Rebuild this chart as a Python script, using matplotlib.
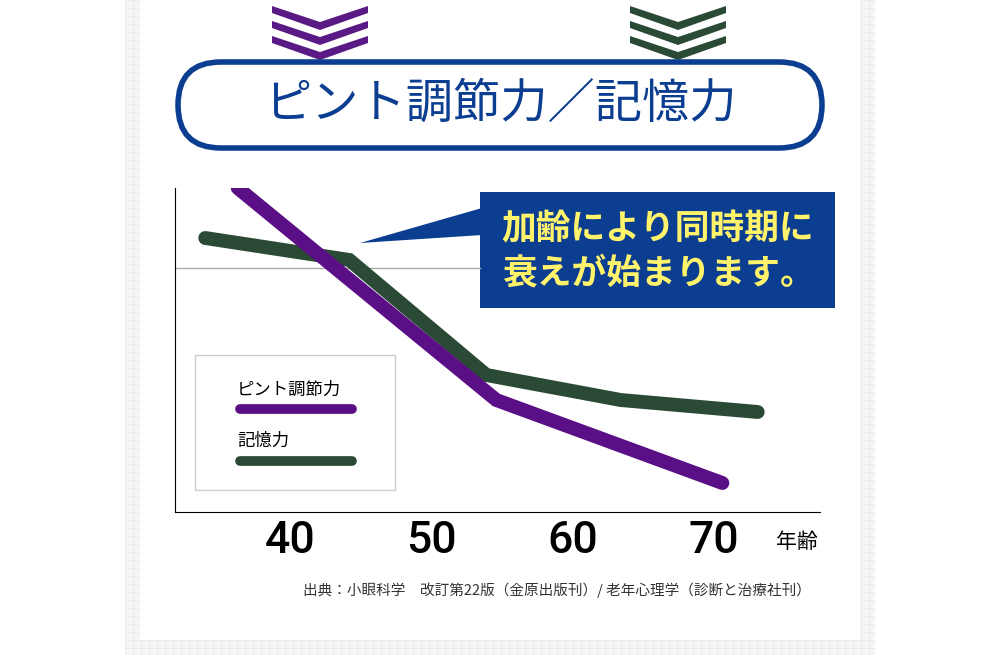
import matplotlib
matplotlib.use("Agg")
import matplotlib.pyplot as plt
from matplotlib.patches import FancyBboxPatch, Rectangle, Polygon

plt.rcParams["font.family"] = "Noto Sans CJK JP"

focus_age = [36.3, 54.6, 70.6]
focus_val = [324, 112, 29]
memory_age = [34.0, 44.2, 53.9, 63.4, 73.1]
memory_val = [274, 252, 137, 112, 100]
xticks = [40, 50, 60, 70]
title = "ピント調節力／記憶力"
callout = "加齢により同時期に\n衰えが始まります。"
source = "出典：小眼科学　改訂第22版（金原出版刊）/ 老年心理学（診断と治療社刊）"

W, H = 1000, 655
fig = plt.figure(figsize=(10, 6.55), dpi=100)
bg = fig.add_axes([0, 0, 1, 1])
bg.set_xlim(0, W); bg.set_ylim(H, 0); bg.axis("off")
bg.add_patch(Rectangle((125, 0), 750, H, fc="#f6f6f6", ec="none", zorder=0))
for gx in range(125, 876, 8):
    bg.plot([gx, gx], [0, H], color="#e8e8e8", lw=0.5, zorder=0.5)
for gy in range(0, H, 8):
    bg.plot([125, 875], [gy, gy], color="#e8e8e8", lw=0.5, zorder=0.5)
bg.add_patch(Rectangle((140, 0), 720, 640, fc="white", ec="none", zorder=1))

def chevrons(cx, color):
    for i in range(3):
        y0 = 6 + i * 15
        bg.add_patch(Polygon([(cx - 48, y0), (cx, y0 + 16), (cx + 48, y0), (cx + 48, y0 + 7),
                              (cx, y0 + 24), (cx - 48, y0 + 7)], closed=True, fc=color, ec="none", zorder=3))
chevrons(320, "#5a1a86")
chevrons(678, "#2b4a35")

bg.add_patch(FancyBboxPatch((178, 62), 644, 86, boxstyle="round,pad=0,rounding_size=43",
                            fc="white", ec="#0b3d91", lw=4, zorder=3))
bg.text(500, 104, title, ha="center", va="center", fontsize=34, color="#0b3d91", zorder=4)

ax = fig.add_axes([175 / W, 1 - 512 / H, (820 - 175) / W, (512 - 188) / H])
x0 = 40 - (290 - 175) / 14.13
x1 = 40 + (820 - 290) / 14.13
ax.set_xlim(x0, x1); ax.set_ylim(0, 324)
ax.axhline(512 - 268, xmin=0, xmax=(480 - 175) / 645, color="#aaaaaa", lw=1)
ax.plot(memory_age, memory_val, color="#2b4a35", lw=10, solid_capstyle="round", solid_joinstyle="miter")
ax.plot(focus_age, focus_val, color="#5a0f86", lw=10, solid_capstyle="round", solid_joinstyle="miter")
for s in ["top", "right"]:
    ax.spines[s].set_visible(False)
ax.spines["left"].set_color("black"); ax.spines["bottom"].set_color("black")
ax.set_yticks([])
ax.set_xticks(xticks)
ax.set_xticklabels([str(t) for t in xticks], fontsize=32, fontfamily="Roboto", fontweight="medium")
ax.tick_params(axis="x", length=0, pad=6)
ax.patch.set_alpha(0)

bg.text(797, 542, "年齢", ha="center", va="center", fontsize=15, zorder=4)
bg.add_patch(Polygon([(360, 243), (482, 208), (482, 235)], closed=True, fc="#0b3d91", ec="none", zorder=3))
bg.add_patch(Rectangle((480, 192), 355, 116, fc="#0b3d91", ec="none", zorder=3))
bg.text(658, 251, callout, ha="center", va="center", fontsize=25, color="#fff36b",
        linespacing=1.35, fontweight="bold", zorder=4)

bg.add_patch(Rectangle((195, 355), 200, 135, fc="white", ec="#cccccc", lw=1, zorder=3))
bg.text(237, 390, "ピント調節力", ha="left", va="center", fontsize=12.5, zorder=4)
bg.plot([240, 352], [409, 409], color="#5a0f86", lw=7, solid_capstyle="round", zorder=4)
bg.text(237, 441, "記憶力", ha="left", va="center", fontsize=12.5, zorder=4)
bg.plot([240, 352], [461, 461], color="#2b4a35", lw=7, solid_capstyle="round", zorder=4)

bg.text(557, 590, source, ha="center", va="center", fontsize=10.5, color="#333333", zorder=4)
fig.savefig("out.png", dpi=100)
